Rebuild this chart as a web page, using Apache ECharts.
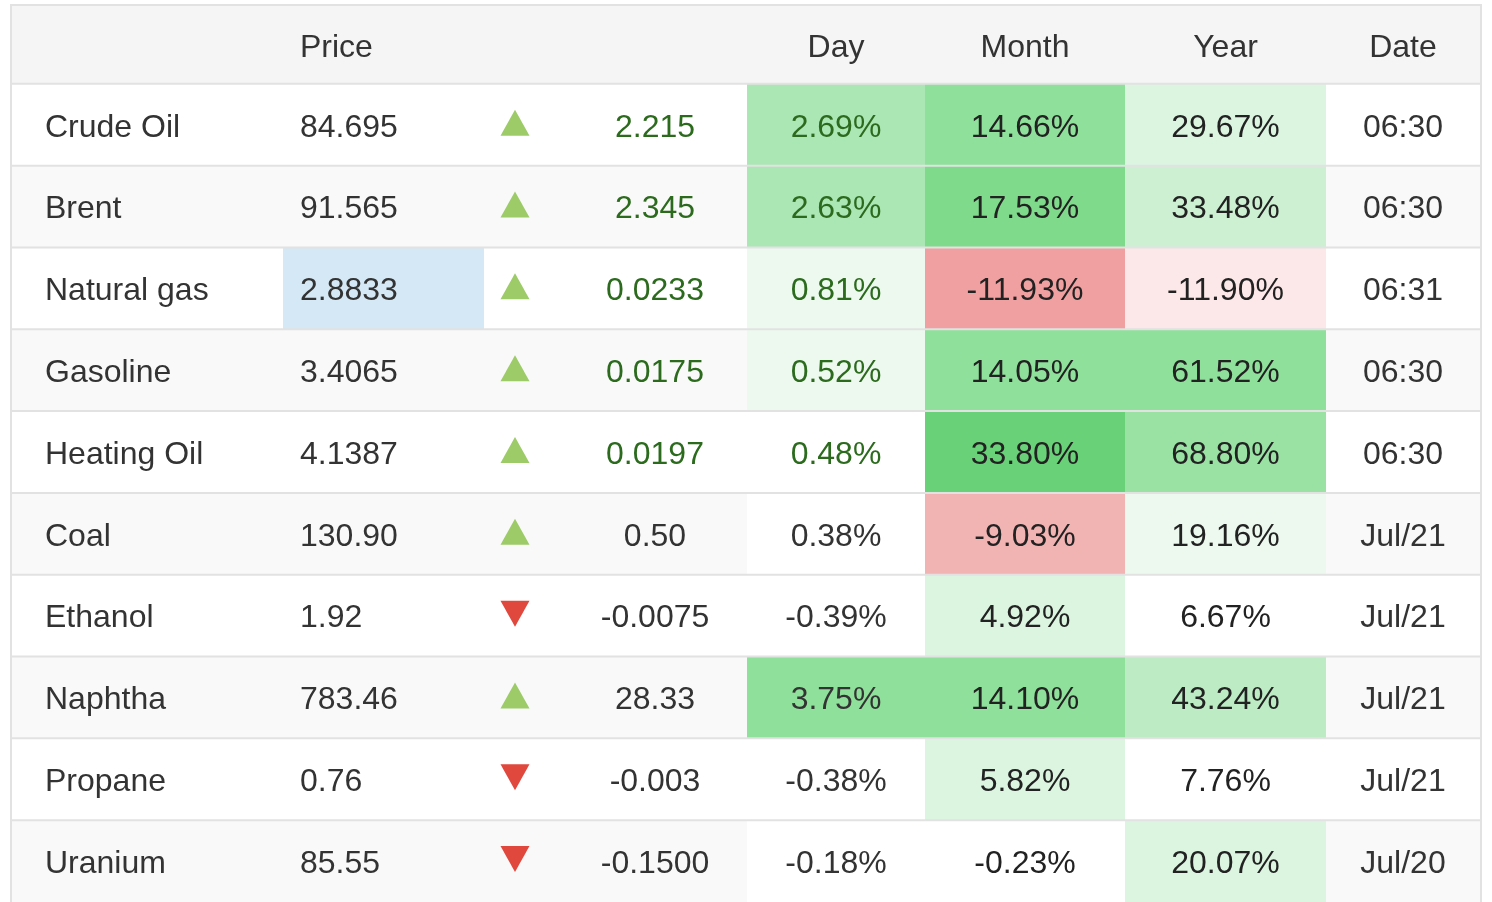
<!DOCTYPE html>
<html><head><meta charset="utf-8">
<script src="https://cdn.jsdelivr.net/npm/echarts@6/dist/echarts.min.js"></script>
<style>html,body{margin:0;padding:0;background:#fff}#c{width:1492px;height:902px}</style>
</head><body><div id="c"></div>
<script>
// ---------- data ----------
const headers = ['', 'Price', '', '', 'Day', 'Month', 'Year', 'Date'];
const names = ['Crude Oil','Brent','Natural gas','Gasoline','Heating Oil','Coal','Ethanol','Naphtha','Propane','Uranium'];
const prices = ['84.695','91.565','2.8833','3.4065','4.1387','130.90','1.92','783.46','0.76','85.55'];
const changes = ['2.215','2.345','0.0233','0.0175','0.0197','0.50','-0.0075','28.33','-0.003','-0.1500'];
const dayPct = [2.69,2.63,0.81,0.52,0.48,0.38,-0.39,3.75,-0.38,-0.18];
const monthPct = [14.66,17.53,-11.93,14.05,33.80,-9.03,4.92,14.10,5.82,-0.23];
const yearPct = [29.67,33.48,-11.90,61.52,68.80,19.16,6.67,43.24,7.76,20.07];
const dates = ['06:30','06:30','06:31','06:30','06:30','Jul/21','Jul/21','Jul/21','Jul/21','Jul/20'];
// heat shade level of each cell (+ green, - red, 0 none)
const dayHeat = [5,5,1,1,0,0,0,7,0,0];
const monthHeat = [7,8,-3,7,9,-2,2,7,2,0];
const yearHeat = [2,3,-1,7,6,1,0,4,0,2];
const flashPrice = ['Natural gas'];

// ---------- style / layout ----------
const FONT = '"Liberation Sans", Arial, Helvetica, sans-serif';
const FS = 32;
const TEXT_DY = 3;
const colWidths = [271, 201, 79, 184, 178, 200, 201, 154];
const colAlign = [
  {align:'left', inset:33}, {align:'left', inset:17}, {align:'center', inset:31},
  {align:'center'}, {align:'center'}, {align:'center'}, {align:'center'}, {align:'center'}
];
const greens = ['#ffffff','#edf9ef','#dcf5e0','#cdf0d3','#bcebc4','#abe6b5','#99e2a4','#8ee09a','#80da8c','#69d178'];
const reds = ['#ffffff','#fce8e8','#f2b3b3','#f0a0a0'];
const heatColor = l => l >= 0 ? greens[l] : reds[-l];
const STRIPE = '#f9f9f9', HEADER_BG = '#f5f5f5', LINE = '#e2e2e2';
const TXT = '#333333', TXT_DARK = '#222222', TXT_GREEN = '#2c6b1e';
const UP = '#9ccb68', DOWN = '#e0473d', FLASH = '#d4e8f6';

const colEdges = [0];
colWidths.forEach(w => colEdges.push(colEdges[colEdges.length - 1] + w));
const totalW = colEdges[colEdges.length - 1];

// ---------- build cells ----------
const cells = [];
headers.forEach((h, c) => cells.push({row: 0, col: c, header: true, text: h, bg: HEADER_BG, color: TXT}));
names.forEach((n, i) => {
  const row = i + 1;
  const stripe = i % 2 === 1 ? STRIPE : null;
  const intraday = dates[i].indexOf(':') >= 0;
  const chg = parseFloat(changes[i]);
  const liveColor = (v) => intraday && v > 0 ? TXT_GREEN : TXT;
  const fmt = v => v.toFixed(2) + '%';
  cells.push({row, col:0, text:n, bg:stripe, color:TXT});
  cells.push({row, col:1, text:prices[i], bg: flashPrice.indexOf(n) >= 0 ? FLASH : stripe, color:TXT});
  cells.push({row, col:2, arrow: chg >= 0 ? 'up' : 'down', bg:stripe});
  cells.push({row, col:3, text:changes[i], bg:stripe, color: liveColor(chg)});
  cells.push({row, col:4, text:fmt(dayPct[i]), bg:heatColor(dayHeat[i]), color: liveColor(dayPct[i])});
  cells.push({row, col:5, text:fmt(monthPct[i]), bg:heatColor(monthHeat[i]), color: TXT_DARK});
  cells.push({row, col:6, text:fmt(yearPct[i]), bg:heatColor(yearHeat[i]), color: TXT_DARK});
  cells.push({row, col:7, text:dates[i], bg:stripe, color:TXT});
});

function renderCell(params, api) {
  const cell = cells[params.dataIndex];
  const p0 = api.coord([api.value(0), api.value(1)]);
  const p1 = api.coord([api.value(2), api.value(1)]);
  const h = api.size([0, 1])[1];
  const x0 = p0[0], x1 = p1[0];
  let cy = p0[1];
  let top = cy - h / 2, height = h;
  if (cell.header) { top += 3; height -= 3; cy += 2; }
  const children = [];
  if (cell.bg) children.push({type:'rect', shape:{x:x0, y:top, width:x1 - x0, height}, style:{fill:cell.bg}});
  const spec = colAlign[cell.col];
  const tx = spec.inset != null ? x0 + spec.inset : (x0 + x1) / 2;
  if (cell.arrow) {
    const hw = 14.5;
    const pts = cell.arrow === 'up'
      ? [[tx - hw, cy + 11], [tx, cy - 15], [tx + hw, cy + 11]]
      : [[tx - hw, cy - 15], [tx + hw, cy - 15], [tx, cy + 11]];
    children.push({type:'polygon', shape:{points:pts}, style:{fill: cell.arrow === 'up' ? UP : DOWN}});
  } else if (cell.text) {
    children.push({type:'text', style:{x:tx, y:cy + TEXT_DY, text:cell.text, fill:cell.color,
      font: FS + 'px ' + FONT, textAlign: spec.align, textVerticalAlign:'middle', verticalAlign:'middle'}});
  }
  return {type:'group', children};
}

function renderLines(params, api) {
  const r = api.value(1);
  const p0 = api.coord([api.value(0), r]);
  const p1 = api.coord([api.value(2), r]);
  const h = api.size([0, 1])[1];
  let top = p0[1] - h / 2;
  const bottom = p0[1] + h / 2;
  if (r === 0) top += 3;
  const x0 = p0[0], x1 = p1[0];
  return {type:'group', children:[
    {type:'rect', shape:{x:x0 - 2, y:top - 1, width:x1 - x0 + 4, height:2}, style:{fill:LINE}},
    {type:'rect', shape:{x:x0 - 2, y:top - 1, width:2, height:bottom - top + 1}, style:{fill:LINE}},
    {type:'rect', shape:{x:x1, y:top - 1, width:2, height:bottom - top + 1}, style:{fill:LINE}}
  ]};
}

const rowCats = ['header'].concat(names);
const chart = echarts.init(document.getElementById('c'), null, {renderer:'canvas'});
chart.setOption({
  animation: false,
  backgroundColor: '#ffffff',
  grid: {left: 12, top: 2, width: totalW, height: 82 * rowCats.length},
  xAxis: {type:'value', min:0, max: totalW, show:false},
  yAxis: {type:'category', data: rowCats, inverse:true, show:false},
  series: [
    {type:'custom', renderItem: renderCell, encode:{x:[0,2], y:1},
     data: cells.map(c => [colEdges[c.col], c.row, colEdges[c.col + 1]]), z: 2},
    {type:'custom', renderItem: renderLines, encode:{x:[0,2], y:1},
     data: rowCats.map((_, r) => [0, r, totalW]), z: 3}
  ]
});
</script>
</body></html>
